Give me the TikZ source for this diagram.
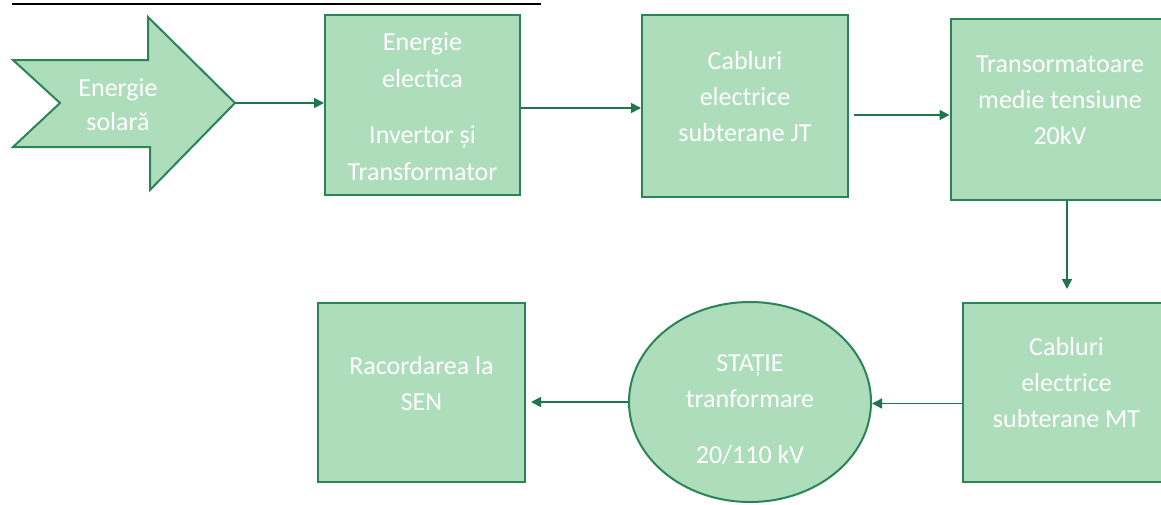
\documentclass[tikz,border=0pt]{standalone}
\usepackage{fontspec}
\setmainfont{Carlito}
\usetikzlibrary{arrows.meta,shapes.geometric}
\definecolor{boxfill}{RGB}{174,221,188}
\definecolor{boxline}{RGB}{42,132,88}
\definecolor{flowline}{RGB}{30,118,78}
\tikzstyle{flow-box}=[fill=boxfill,draw=boxline,line width=1pt,text=white,align=center,inner sep=0pt,font=\fontsize{13}{18}\selectfont]
\tikzstyle{flow-oval}=[flow-box,ellipse]
\tikzstyle{flow-arrow}=[draw=flowline,line width=0.8pt,-{Triangle[length=5pt,width=5pt]}]

\begin{document}
\begin{tikzpicture}[x=0.5pt,y=-0.5pt]
    \useasboundingbox (0,0) rectangle (1161,504);
    % title underline (cut off)
    \draw[black,line width=1pt] (12,4) -- (541,4);

    % solar energy arrow
    \draw[fill=boxfill,draw=boxline,line width=1pt]
        (13,60) -- (148,60) -- (148,17) -- (235,103) -- (150,190) -- (150,147) -- (13,147) -- (60,103) -- cycle;
    \coordinate (soltip) at (235,103);
    \node[text=white,align=center,font=\fontsize{13}{17}\selectfont] at (118,105) (sol) {Energie\\solară};

    % upper row
    \node[flow-box,minimum width=97.5pt,minimum height=90pt,font=\fontsize{13}{18.5}\selectfont] at (422.5,105) (inv)
        {\rule{0pt}{11pt}Energie\\electica\\[9.5pt]Invertor și\\Transformator};
    \node[flow-box,minimum width=103pt,minimum height=91pt,text depth=10pt] at (745,106) (jt)
        {Cabluri\\electrice\\subterane JT};
    \node[flow-box,minimum width=109.5pt,minimum height=90.5pt,text depth=9pt] at (1060,109.5) (mt20)
        {Transormatoare\\medie tensiune\\20kV};

    % lower row
    \node[flow-box,minimum width=103.5pt,minimum height=89.5pt,text depth=10pt] at (1066.5,392.5) (mtc)
        {Cabluri\\electrice\\subterane MT};
    \node[flow-oval,minimum width=121pt,minimum height=100pt] at (750,402) (statie)
        {\rule{0pt}{16pt}STAȚIE\\tranformare\\[10pt]20/110 kV};
    \node[flow-box,minimum width=103.5pt,minimum height=89.5pt,text depth=9pt] at (421.5,392.5) (racord)
        {Racordarea la\\SEN};

    % connectors
    \draw[flow-arrow] (soltip) -- (soltip -| inv.west);
    \draw[flow-arrow] ([yshift=-1.5pt]inv.east) -- ([yshift=-1.5pt]inv.east -| jt.west);
    \draw[flow-arrow,shorten <=2.5pt] ([yshift=-4.5pt]jt.east) -- ([yshift=-4.5pt]jt.east -| mt20.west);
    \draw[flow-arrow,shorten >=6.5pt] ([xshift=3.5pt]mt20.south) -- ([xshift=3.5pt]mt20.south |- mtc.north);
    \draw[flow-arrow] ([yshift=-5.5pt]mtc.west) -- ([yshift=-5.5pt]mtc.west -| statie.east);
    \draw[flow-arrow,shorten >=2.5pt] (statie.west) -- (statie.west -| racord.east);
\end{tikzpicture}
\end{document}
